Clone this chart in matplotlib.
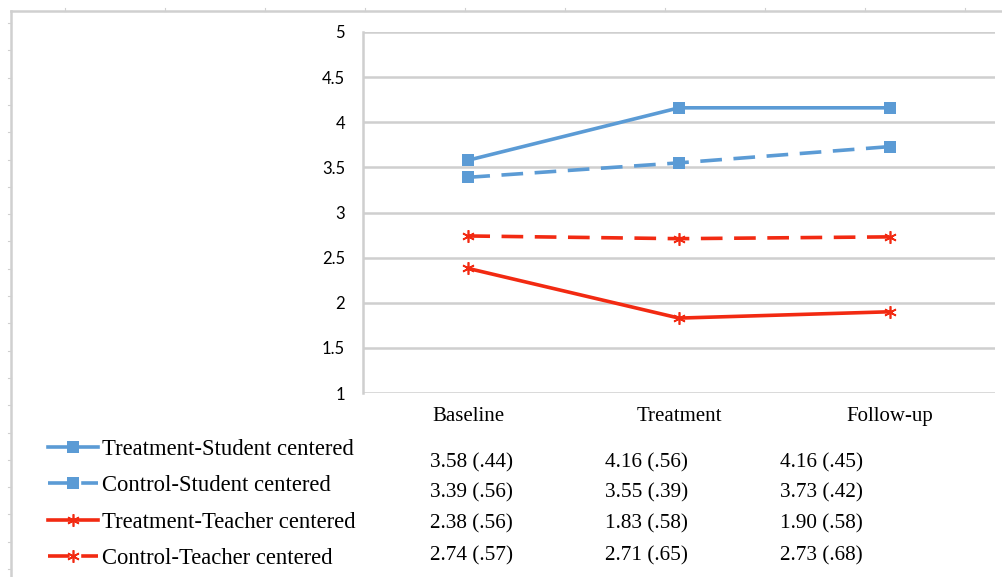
import matplotlib
matplotlib.use("Agg")
import matplotlib.pyplot as plt
from matplotlib.lines import Line2D

# Data
phases = ["Baseline", "Treatment", "Follow-up"]
series_names = [
    "Treatment-Student centered",
    "Control-Student centered",
    "Treatment-Teacher centered",
    "Control-Teacher centered",
]
treat_student = [3.58, 4.16, 4.16]
ctrl_student = [3.39, 3.55, 3.73]
treat_teacher = [2.38, 1.83, 1.90]
ctrl_teacher = [2.74, 2.71, 2.73]
treat_student_sd = [".44", ".56", ".45"]
ctrl_student_sd = [".56", ".39", ".42"]
treat_teacher_sd = [".56", ".58", ".58"]
ctrl_teacher_sd = [".57", ".65", ".68"]
y_ticks = [1, 1.5, 2, 2.5, 3, 3.5, 4, 4.5, 5]

W, H = 1002, 577
BLUE = "#5B9BD5"
RED = "#F22A12"
GRID = "#CFCFCF"
SERIF = ["Liberation Serif", "DejaVu Serif"]


def fx(px):
    return px / W


def fy(py):
    return 1 - py / H


fig = plt.figure(figsize=(W / 100, H / 100), dpi=100)
ax = fig.add_axes([fx(363), fy(393), fx(995) - fx(363), fy(32) - fy(393)])

x = [i + 0.5 for i in range(len(phases))]
means = [treat_student, ctrl_student, treat_teacher, ctrl_teacher]
styles = [
    dict(color=BLUE, ls="-", marker="s", ms=8, mew=0),
    dict(color=BLUE, ls=(0, (6, 3.2)), marker="s", ms=8, mew=0),
    dict(color=RED, ls="-", marker=(6, 2, 0), ms=9, mew=1.2),
    dict(color=RED, ls=(0, (6, 3.2)), marker=(6, 2, 0), ms=9, mew=1.2),
]
handles = []
for vals, name, st in zip(means, series_names, styles):
    ln, = ax.plot(x, vals, color=st["color"], linestyle=st["ls"], lw=2.6,
                  marker=st["marker"], markersize=st["ms"],
                  markeredgewidth=st["mew"], markeredgecolor=st["color"],
                  markerfacecolor=st["color"], label=name, zorder=3)
    handles.append(ln)

ax.set_xlim(0, 3)
ax.set_ylim(1, 5)
ax.set_yticks(y_ticks)
ax.set_yticklabels([f"{t:g}" for t in y_ticks], family=["Lato", "DejaVu Sans"], fontsize=12)
ax.set_xticks(x)
ax.set_xticklabels(phases, family=SERIF, fontsize=15)
ax.tick_params(axis="y", length=0, pad=13)
ax.tick_params(axis="x", length=0, pad=10)
ax.grid(axis="y", color=GRID, lw=1.8)
ax.set_axisbelow(True)
for s in ["top", "right", "bottom"]:
    ax.spines[s].set_visible(False)
ax.spines["left"].set_color(GRID)
ax.spines["left"].set_linewidth(1.8)

# legend on the left
fig.legend(handles=handles, loc="center left", bbox_to_anchor=(fx(48), fy(504)),
           bbox_transform=fig.transFigure, frameon=False, prop={"family": SERIF, "size": 16.3},
           handlelength=2.2, handletextpad=0.2, labelspacing=0.68, borderpad=0, borderaxespad=0)

# table of means (SD)
sds = [treat_student_sd, ctrl_student_sd, treat_teacher_sd, ctrl_teacher_sd]
col_x = [430, 605, 780]
row_y = [463, 493, 524, 556]
for r, (vals, sdv) in enumerate(zip(means, sds)):
    for c in range(len(phases)):
        fig.text(fx(col_x[c]), fy(row_y[r]), f"{vals[c]:.2f} ({sdv[c]})",
                 family=SERIF, fontsize=15.3, ha="left", va="center")

# page ruler frame
fig.add_artist(Line2D([fx(11), 1], [fy(11), fy(11)], color="#D0D0D0", lw=1.8))
fig.add_artist(Line2D([fx(11), fx(11)], [fy(11), 0], color="#D0D0D0", lw=1.8))
for px in range(65, W, 100):
    fig.add_artist(Line2D([fx(px), fx(px)], [fy(8), fy(11)], color="#D0D0D0", lw=0.8))
py = 23
while py < H:
    fig.add_artist(Line2D([fx(8), fx(11)], [fy(py), fy(py)], color="#D0D0D0", lw=0.8))
    py += 27.3

fig.savefig("out.png", dpi=100)
